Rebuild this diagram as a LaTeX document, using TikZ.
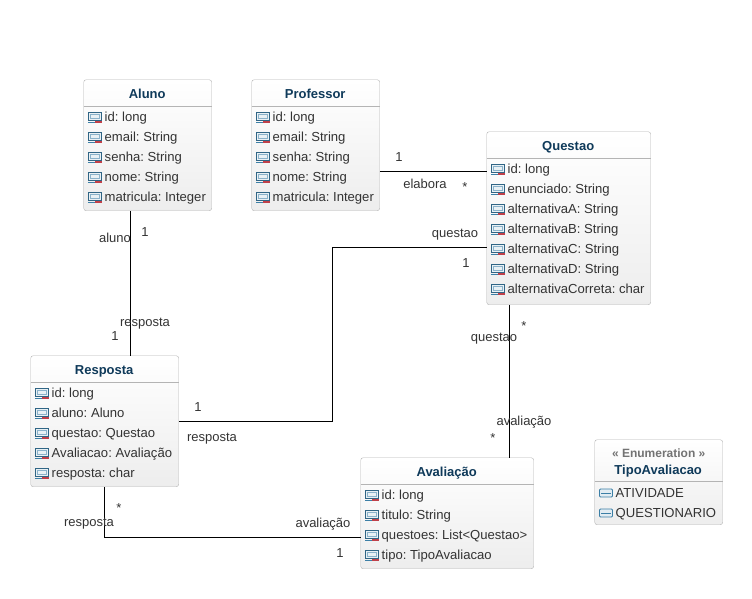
\documentclass[tikz,border=0pt]{standalone}
\usepackage{fontspec}
\setmainfont{Liberation Sans}
\usepackage{xcolor}
\usetikzlibrary{calc,positioning}
\definecolor{titleblue}{HTML}{0F3A5A}
\definecolor{bodygray}{HTML}{333333}
\definecolor{edgegray}{HTML}{B4B4B4}
\definecolor{iconblue}{HTML}{3C7FA6}
\definecolor{iconred}{HTML}{C0404A}
\frenchspacing
\tikzset{
  class/.style={draw=edgegray, rounded corners=2.5pt, top color=white, bottom color=black!7, inner sep=0pt, anchor=north west},
  class title/.style={anchor=base, text=titleblue, font=\fontsize{13}{15}\selectfont\bfseries, inner sep=0pt},
  attr/.style={anchor=base west, text=bodygray, font=\fontsize{13.1}{15}\selectfont, inner sep=0pt},
  lbl/.style={text=bodygray, font=\fontsize{13}{15}\selectfont, inner sep=0pt},
  rel/.style={draw=black, line width=0.9pt},
  attr icon/.pic={
    \draw[iconblue!80!black, fill=iconblue!12, line width=0.7pt] (-7,-5) rectangle (6,3);
    \draw[iconblue!60, line width=0.6pt] (-5,-3) rectangle (4,1);
    \draw[iconblue, line width=0.9pt] (-7,5) -- (1,5);
    \fill[iconred] (0,4) rectangle (7,6);
  },
  enum icon/.pic={
    \draw[iconblue, fill=iconblue!15, line width=0.9pt, rounded corners=1pt] (-6.5,-4) rectangle (6.5,4);
    \draw[iconblue, line width=1pt] (-5,0) -- (5,0);
  }
}

\begin{document}
\begin{tikzpicture}[x=1pt,y=-1pt]
  \useasboundingbox (0,0) rectangle (752,598);

  % classes
  \node[class, minimum width=128pt, minimum height=131pt] (aluno) at (83.5,79.5) {};
  \node[class, minimum width=128pt, minimum height=131pt] (professor) at (251.5,79.5) {};
  \node[class, minimum width=164pt, minimum height=173pt] (questao) at (486.5,131.5) {};
  \node[class, minimum width=148pt, minimum height=131pt] (resposta) at (30.5,355.5) {};
  \node[class, minimum width=173pt, minimum height=111pt] (avaliacao) at (360.5,457.5) {};
  \node[class, minimum width=128pt, minimum height=85pt] (tipo) at (594.5,439.5) {};

  \node[class title] (aluno t) at ($(aluno.north)+(-0.5,18.8)$) {Aluno};
  \node[class title] (professor t) at ($(professor.north)+(-0.5,18.8)$) {Professor};
  \node[class title] (questao t) at ($(questao.north)+(-0.5,18.8)$) {Questao};
  \node[class title] (resposta t) at ($(resposta.north)+(-0.5,18.8)$) {Resposta};
  \node[class title] (avaliacao t) at ($(avaliacao.north)+(-0.5,18.8)$) {Avaliação};
  \node[attr, anchor=base, text=black!55, font=\fontsize{12}{14}\selectfont\bfseries] (tipo s) at ($(tipo.north)+(0,18)$) {« Enumeration »};
  \node[class title] (tipo t) at ($(tipo.north)+(-0.5,34.5)$) {TipoAvaliacao};

  % separators
  \foreach \c in {aluno,professor,questao,resposta,avaliacao}
    \draw[edgegray] ($(\c.north west)+(0,26.5)$) -- ($(\c.north east)+(0,26.5)$);
  \draw[edgegray] ($(tipo.north west)+(0,42)$) -- ($(tipo.north east)+(0,42)$);

  % attributes
  \foreach \txt [count=\i] in {id: long, email: String, senha: String, nome: String, matricula: Integer} {
    \pic at ($(aluno.north west)+(11.5,17.5+20*\i)$) {attr icon};
    \node[attr] (aluno a\i) at ($(aluno.north west)+(21,22+20*\i)$) {\txt};
    \pic at ($(professor.north west)+(11.5,17.5+20*\i)$) {attr icon};
    \node[attr] (professor a\i) at ($(professor.north west)+(21,22+20*\i)$) {\txt};
  }
  \foreach \txt [count=\i] in {id: long, enunciado: String, alternativaA: String, alternativaB: String, alternativaC: String, alternativaD: String, alternativaCorreta: char} {
    \pic at ($(questao.north west)+(11.5,17.5+20*\i)$) {attr icon};
    \node[attr] (questao a\i) at ($(questao.north west)+(21,22+20*\i)$) {\txt};
  }
  \foreach \txt [count=\i] in {id: long, aluno: Aluno, questao: Questao, Avaliacao: Avaliação, resposta: char} {
    \pic at ($(resposta.north west)+(11.5,17.5+20*\i)$) {attr icon};
    \node[attr] (resposta a\i) at ($(resposta.north west)+(21,22+20*\i)$) {\txt};
  }
  \foreach \txt [count=\i] in {id: long, titulo: String, questoes: List<Questao>, tipo: TipoAvaliacao} {
    \pic at ($(avaliacao.north west)+(11.5,17.5+20*\i)$) {attr icon};
    \node[attr] (avaliacao a\i) at ($(avaliacao.north west)+(21,22+20*\i)$) {\txt};
  }
  \foreach \txt [count=\i] in {ATIVIDADE, QUESTIONARIO} {
    \pic at ($(tipo.north west)+(11.5,33.5+20*\i)$) {enum icon};
    \node[attr] (tipo a\i) at ($(tipo.north west)+(21,38+20*\i)$) {\txt};
  }

  % connectors
  \coordinate (aluno r) at ($(aluno.south west)!0.362!(aluno.south east)$);
  \coordinate (professor r) at ($(professor.north east)!0.702!(professor.south east)$);
  \coordinate (questao r) at ($(questao.north west)!0.671!(questao.south west)$);
  \coordinate (questao s) at ($(questao.south west)!0.137!(questao.south east)$);
  \coordinate (avaliacao r) at ($(avaliacao.north west)!0.72!(avaliacao.south west)$);
  \coordinate (bend) at (332.5,0);
  \draw[rel] (aluno r) -- (aluno r |- resposta.north);
  \draw[rel] (professor r) -- (professor r -| questao.west);
  \draw[rel] (questao r) -- (questao r -| bend) -- (resposta.east -| bend) -- (resposta.east);
  \draw[rel] (questao s) -- (questao s |- avaliacao.north);
  \draw[rel] (resposta.south) |- (avaliacao r);

  % labels
  \node[lbl] (l1) at (115,237.5) {aluno};
  \node[lbl] (l2) at (145,232) {1};
  \node[lbl] (l3) at (145,323.5) {resposta};
  \node[lbl] (l4) at (115,336) {1};
  \node[lbl] (l5) at (399,157) {1};
  \node[lbl] (l6) at (425,184) {elabora};
  \node[lbl] (l7) at (465,187) {*};
  \node[lbl] (l8) at (455,234.5) {questao};
  \node[lbl] (l9) at (466,263) {1};
  \node[lbl] (l10) at (198,407) {1};
  \node[lbl] (l11) at (212,438.5) {resposta};
  \node[lbl] (l12) at (494,338.5) {questao};
  \node[lbl] (l13) at (524,326) {*};
  \node[lbl] (l14) at (524,422) {avaliação};
  \node[lbl] (l15) at (493,438) {*};
  \node[lbl] (l16) at (119,508) {*};
  \node[lbl] (l17) at (89,523.5) {resposta};
  \node[lbl] (l18) at (323,524) {avaliação};
  \node[lbl] (l19) at (340,553) {1};
\end{tikzpicture}
\end{document}
